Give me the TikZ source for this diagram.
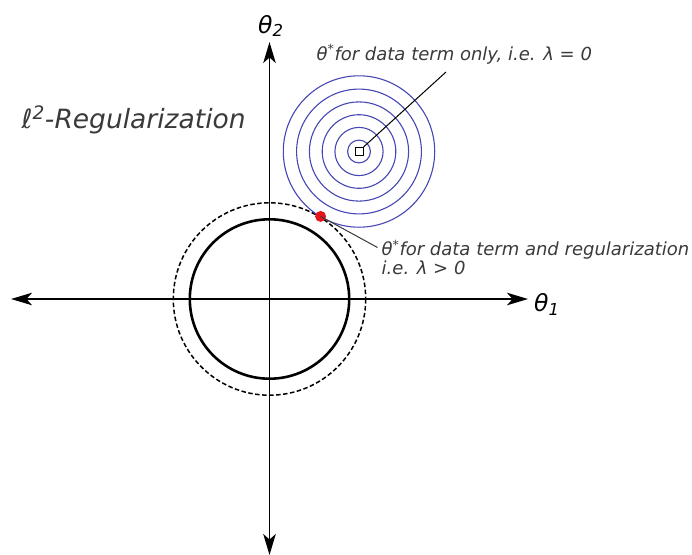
\documentclass[tikz,border=0pt]{standalone}
\usepackage{fontspec}
\setmainfont{DejaVu Sans}
\usetikzlibrary{arrows.meta}
\definecolor{txtgray}{HTML}{3A3A3A}
\definecolor{contour}{HTML}{4747B4}
\definecolor{optred}{HTML}{E8141C}
\begin{document}
\begin{tikzpicture}[x=1pt,y=-1pt,
  axis/.style={line width=1.8pt,-{Stealth[length=21pt,width=12.5pt,inset=5.5pt]}},
  annot/.style={text=txtgray,font=\fontsize{18}{18.5}\selectfont\itshape,inner sep=0pt,align=left},
  axlabel/.style={font=\fontsize{23.5}{26}\selectfont\itshape,inner sep=0pt},
  level/.style={draw=contour,line width=1.1pt},
  leader/.style={line width=1pt}]
\useasboundingbox (0,0) rectangle (692,554);
\coordinate (O) at (269.5,299);
\coordinate (top) at (269.5,42);
\coordinate (bottom) at (269.5,555);
\coordinate (left) at (11,299);
\coordinate (right) at (528,299);
\draw[axis] (O) -- (top);
\draw[axis] (O) -- (bottom);
\draw[axis] (O) -- (left);
\draw[axis] (O) -- (right);
% constraint circles
\draw[line width=2.6pt] (O) circle[radius=79.7];
\draw[line width=1.5pt,dash pattern=on 4.5pt off 2.5pt] (O) circle[radius=96.2];
% contours
\coordinate (C) at (359,151.5);
\foreach \r in {11.4,24.1,36.8,49.6,62.4,75.7}{
  \draw[level] (C) circle[radius=\r];
}
\node[draw,line width=1pt,minimum size=8pt,inner sep=0pt,fill=white] (sq) at (C) {};
% optimum on constraint
\node[circle,fill=optred,minimum size=11pt,inner sep=0pt] (opt) at (320.6,216.4) {};
% labels
\node[annot,anchor=base west] (t1) at (316.5,60) {θ\textsuperscript{*}for data term only, i.e. λ = 0};
\node[annot,anchor=base west] (t2) at (381.5,274) {θ\textsuperscript{*}for data term and regularization\\i.e. λ > 0};
\coordinate (l1) at (446,72);
\coordinate (l2) at (377.5,247.5);
\draw[leader] (sq.north east) -- (l1);
\draw[leader,txtgray] (opt.center) -- (l2);
\node[annot,text=txtgray,font=\fontsize{26.5}{28}\selectfont\itshape,anchor=base west] (title) at (21.5,128.3) {ℓ\textsuperscript{2}-Regularization};
\node[axlabel,anchor=base west] (th2) at (258,33) {θ\textsubscript{2}};
\node[axlabel,anchor=base west] (th1) at (534,311.5) {θ\textsubscript{1}};
\end{tikzpicture}
\end{document}
